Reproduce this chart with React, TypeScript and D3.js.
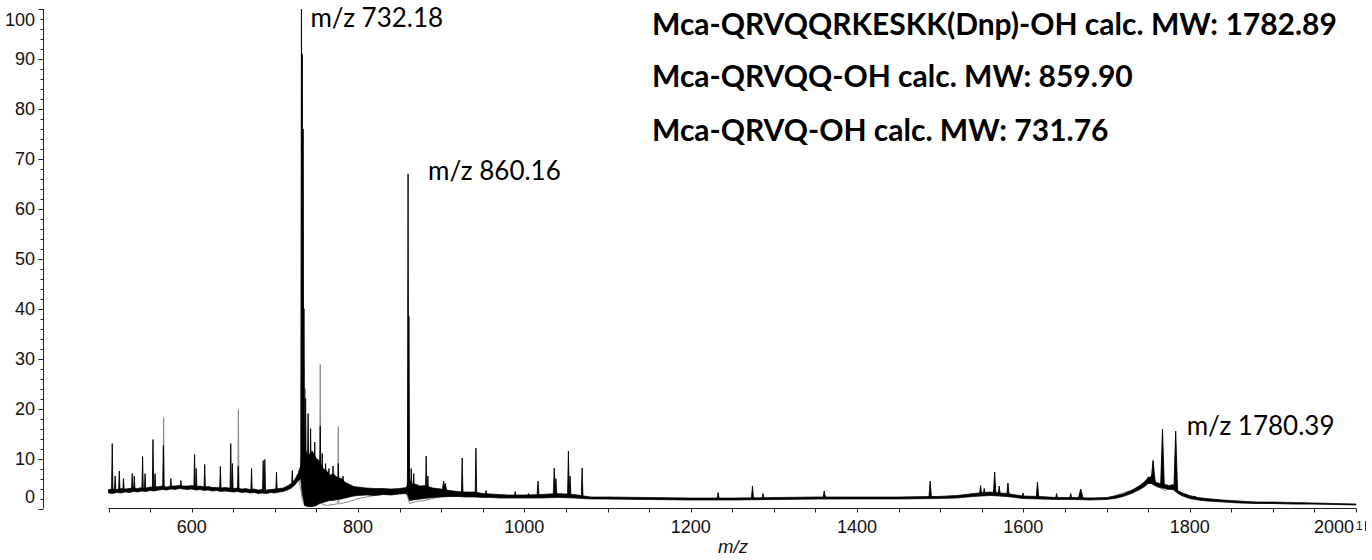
import React from 'react';
import * as d3 from 'd3';

// ---------- data ----------
// noise envelope of the black spectrum: [m/z, lower %, upper %]
const envelope: [number, number, number][] = [
  [500,3.1,3.8],[505,3.0,3.9],[510,3.2,3.8],[515,3.1,4.0],[520,3.3,3.9],[525,3.2,4.0],[530,3.4,4.1],[535,3.3,4.0],
  [540,3.5,4.2],[545,3.4,4.1],[550,3.6,4.3],[555,3.5,4.2],[560,3.7,4.4],[565,3.8,4.5],[570,3.7,4.3],[575,3.9,4.5],
  [580,3.8,4.5],[585,4.0,4.6],[590,3.9,4.5],[595,3.8,4.5],[600,3.9,4.6],[605,3.7,4.4],[610,3.8,4.5],[615,3.6,4.3],
  [620,3.7,4.4],[625,3.5,4.2],[630,3.6,4.2],[635,3.4,4.1],[640,3.5,4.2],[645,3.4,4.1],[650,3.3,4.0],[655,3.4,4.1],
  [660,3.2,3.9],[665,3.3,4.0],[670,3.1,3.8],[675,3.2,3.9],[680,3.0,3.7],[685,3.1,3.8],[690,3.0,3.7],[695,3.2,3.8],
  [700,3.1,3.9],[705,3.3,4.0],[710,3.4,4.1],[715,3.7,4.5],[720,4.1,5.0],[724,4.7,5.8],[728,5.5,7.0],[731,6.0,8.5],
  [733,3.0,12.0],[736,0.6,12.0],[740,0.4,10.5],[745,0.4,11.5],[750,0.6,10.0],[754,1.0,9.5],[758,1.2,8.0],[762,1.4,7.6],
  [766,1.6,6.6],[770,1.6,7.0],[775,1.8,6.2],[780,1.9,6.0],[785,2.1,5.2],[790,2.3,4.8],[795,2.5,4.4],[800,2.6,4.3],
  [810,2.7,4.1],[820,2.6,4.0],[830,2.8,4.0],[840,2.7,3.9],[850,2.9,4.0],[858,3.0,4.2],[860,2.6,5.0],[862,1.6,5.6],
  [866,1.7,5.0],[870,1.8,4.8],[875,1.9,4.5],[880,2.0,4.6],[890,2.2,4.1],[900,2.3,3.9],[910,2.4,3.6],[920,2.4,3.4],
  [930,2.3,3.3],[940,2.3,3.3],[950,2.2,3.0],[960,2.2,2.9],[970,2.1,2.8],[980,2.1,2.7],[990,2.1,2.7],[1000,2.1,2.7],
  [1020,2.1,2.8],[1040,2.2,3.0],[1060,2.1,2.8],[1080,1.9,2.3],[1100,1.9,2.3],[1150,1.8,2.2],[1200,1.7,2.1],[1250,1.7,2.1],
  [1300,1.8,2.2],[1350,1.9,2.3],[1400,1.9,2.3],[1450,1.9,2.3],[1500,2.0,2.4],[1520,2.1,2.6],[1540,2.4,3.0],[1560,2.6,3.3],
  [1580,2.4,3.0],[1600,2.0,2.5],[1620,1.9,2.4],[1640,1.8,2.2],[1660,1.8,2.2],[1680,1.7,2.1],[1700,1.8,2.2],[1710,2.0,2.5],
  [1720,2.4,2.9],[1730,3.0,3.6],[1740,3.8,4.6],[1746,4.4,5.4],[1750,5.0,6.2],[1754,5.0,6.4],[1760,4.4,5.2],[1764,4.2,5.0],
  [1770,4.0,4.8],[1776,3.8,4.6],[1780,3.8,4.8],[1786,3.0,3.6],[1790,2.6,3.2],[1800,2.0,2.6],[1810,1.7,2.2],[1820,1.5,2.0],
  [1840,1.3,1.7],[1860,1.1,1.5],[1880,1.0,1.3],[1900,1.0,1.3],[1925,0.9,1.2],[1950,0.9,1.1],[1975,0.8,1.0],[2000,0.7,0.9],
];

// black spectrum peaks (m/z, intensity %, half width in m/z)
const blackPeakMz = [504.5,508,513,518,528.5,531,541,544,553.5,556,566,575,587,603.5,605.5,615.7,634.5,647,649,656,672,686,688,702,721,732,733,734,735,737,740,743,748,754.6,757,761,765,770,776.3,782,860.2,861.2,864,867,882,884,903,905,925.3,941.8,954,989,1005,1016.5,1036,1038,1053,1055,1069.5,1233,1274.3,1287,1360.6,1488,1548.6,1553,1565.5,1571,1581.5,1599.6,1617,1640,1657,1669,1756,1767.3,1783.2,1806];
const blackPeakInt = [13,6.5,7.5,6,7,6.5,10.4,7,13.8,7,12.6,6,5.6,10.8,8,8.8,8.4,13,9,8.5,8,9.6,9.8,7.3,7.6,100,91,76,40,22,19,16,13.3,16.5,11,9,8,8.5,9,6.5,67,38.5,8,7,10.5,6.5,5.5,5,10.1,12.1,3.6,3.4,3,5.5,8.1,6,11.5,6.5,8.1,3.2,4.5,3,3.5,5.5,4.6,4,7.3,4.5,5.1,3.1,5.3,3,3,3.9,9.5,15.9,15.5,2.5];
const blackPeakHalfWidth = [0.8,0.8,0.8,0.8,0.8,0.8,0.8,0.8,0.8,0.8,0.8,0.8,0.8,0.8,0.8,0.8,0.8,0.8,0.8,0.8,0.8,0.8,0.8,0.8,0.8,0.8,0.8,0.8,0.8,0.8,0.8,0.8,0.8,0.8,0.8,0.8,0.8,0.8,0.8,0.8,0.8,0.8,0.8,0.8,0.8,0.8,2,2,0.9,0.9,1,1,1,1.2,1.2,1,1,1,1,1.2,1.2,1.2,1.5,1.5,1.2,1.2,1.5,1.2,1.5,1.2,1.5,1.2,1.2,3,2.5,2.2,2.2,1.5];

// grey (overlaid) spectrum: baseline points and peaks
const greyMz = [500,520,540,560,580,600,620,640,660,680,700,715,722,728,733,736,744,750,753,756,762,770,780,790,800,820,840,858,862,870,880,900,950,1000,1060,1080,1200,1400,1540,1560,1600,1700,1740,1750,1760,1770,1780,1790,1800,1850,1900,2000];
const greyInt = [3.4,3.6,3.9,4.1,4.2,4.3,4.1,3.9,3.6,3.4,3.5,4.0,5.0,6.6,2.0,0.5,0.4,0.6,2.0,1.0,0.6,0.8,1.0,1.4,2.0,2.6,3.0,3.2,1.0,1.4,1.6,2.4,2.5,2.4,2.4,2.0,1.8,2.0,2.6,2.8,2.2,2.0,4.2,5.4,4.6,3.6,4.2,2.8,2.2,1.3,1.0,0.8];
const greyPeakMz = [566.3,656.2,736.5,754.6,776.3,1749.5,1756];
const greyPeakInt = [18.2,19.8,24,28.8,16.4,6.3,9.8];

// axes
const xTickLabels = [600,800,1000,1200,1400,1600,1800,2000];
const yTickLabels = [0,10,20,30,40,50,60,70,80,90,100];

// annotations
const peakLabels = ['m/z 732.18','m/z 860.16','m/z 1780.39'];
const peakLabelMz = [732,860.2,1783.2];
const titleLines = [
  'Mca-QRVQQRKESKK(Dnp)-OH calc. MW: 1782.89',
  'Mca-QRVQQ-OH calc. MW: 859.90',
  'Mca-QRVQ-OH calc. MW: 731.76',
];

const interp = (xs: number[], ys: number[], v: number) => {
  const i = Math.min(Math.max(d3.bisectLeft(xs, v), 1), xs.length - 1);
  const t = (v - xs[i - 1]) / (xs[i] - xs[i - 1]);
  return ys[i - 1] + (ys[i] - ys[i - 1]) * t;
};

export default function App() {
  const W = 1372, H = 560;
  const x = d3.scaleLinear().domain([500, 2000]).range([108.5, 1356]);
  const y = d3.scaleLinear().domain([0, 100]).range([508.5, 9]);

  const eMz = envelope.map(d => d[0]);
  const eLo = envelope.map(d => d[1]);
  const eHi = envelope.map(d => d[2]);
  const area = d3.area<[number, number, number]>().x(d => x(d[0])).y0(d => y(d[1])).y1(d => y(d[2]));
  const envPath = area(envelope) || '';

  const mid = (m: number) => (interp(eMz, eLo, m) + interp(eMz, eHi, m)) / 2;
  const tri = d3.line<[number, number]>().x(d => x(d[0])).y(d => y(d[1]));
  const blackPeaks = blackPeakMz.map((m, i) => {
    const hw = blackPeakHalfWidth[i];
    const b = mid(m);
    return tri([[m - hw, b], [m, blackPeakInt[i]], [m + hw, b]]) || '';
  });

  const greyPts: [number, number][] = greyMz.map((m, i) => [m, greyInt[i]] as [number, number]);
  greyPeakMz.forEach((m, i) => {
    const b = interp(greyMz, greyInt, m);
    greyPts.push([m - 0.7, b], [m, greyPeakInt[i]], [m + 0.7, b]);
  });
  greyPts.sort((a, b) => a[0] - b[0]);
  const greyPath = tri(greyPts) || '';

  const minorX = d3.range(500, 2001, 50);
  const minorY = d3.range(0, 101, 2);
  const axisFont = '"Liberation Sans", Arial, sans-serif';
  const annFont = 'Lato, "Open Sans", sans-serif';

  return (
    <svg width={W} height={H} style={{ position: 'absolute', left: 0, top: 0, background: '#fff' }}>
      {/* y axis */}
      <g stroke="#222" strokeWidth={1}>
        <line x1={43.5} x2={43.5} y1={y(100)} y2={y(0)} />
        {minorY.map(v => (
          <line key={v} x1={v % 10 === 0 ? 38.5 : 40.5} x2={43.5} y1={Math.round(y(v)) + 0.5} y2={Math.round(y(v)) + 0.5} />
        ))}
      </g>
      <g fontFamily={axisFont} fontSize={18} fill="#111" textAnchor="end">
        {yTickLabels.map(v => (
          <text key={v} x={35} y={Math.min(Math.max(y(v), 20), 497)} dy="0.35em">{v}</text>
        ))}
      </g>
      {/* x axis */}
      <g stroke="#222" strokeWidth={1}>
        <line x1={x(500)} x2={x(2000)} y1={508.5} y2={508.5} />
        {minorX.map(v => (
          <line key={v} x1={Math.round(x(v)) + 0.5} x2={Math.round(x(v)) + 0.5} y1={508.5} y2={512.5} />
        ))}
      </g>
      <g fontFamily={axisFont} fontSize={18} fill="#111">
        {xTickLabels.map(v => (
          <text key={v} x={v === 2000 ? x(v) - 2 : x(v)} y={533} textAnchor={v === 2000 ? 'end' : 'middle'}>{v}</text>
        ))}
        <text x={1356} y={530} fontSize={12}>1</text>
        <line x1={1365.5} x2={1365.5} y1={521} y2={531} stroke="#333" strokeWidth={1} />
        <text x={733} y={553} textAnchor="middle" fontStyle="italic" fontSize={18.5}>m/z</text>
      </g>

      {/* grey spectrum */}
      <path d={greyPath} fill="none" stroke="#8a8a8a" strokeWidth={1} />
      {/* black spectrum */}
      <path d={envPath} fill="#000" stroke="#000" strokeWidth={0.7} />
      {blackPeaks.map((d, i) => (
        <path key={i} d={d} fill="#000" stroke="#000" strokeWidth={0.9} />
      ))}

      {/* peak labels */}
      <g fontFamily={annFont} fontSize={26} fill="#000">
        <text x={x(peakLabelMz[0]) + 9} y={27}>{peakLabels[0]}</text>
        <text x={x(peakLabelMz[1]) + 20} y={180}>{peakLabels[1]}</text>
        <text x={x(peakLabelMz[2]) + 11} y={435}>{peakLabels[2]}</text>
      </g>
      <g fontFamily={annFont} fontSize={30} fontWeight="bold" fill="#000">
        <text x={652} y={35}>{titleLines[0]}</text>
        <text x={652} y={87}>{titleLines[1]}</text>
        <text x={652} y={141}>{titleLines[2]}</text>
      </g>
    </svg>
  );
}
